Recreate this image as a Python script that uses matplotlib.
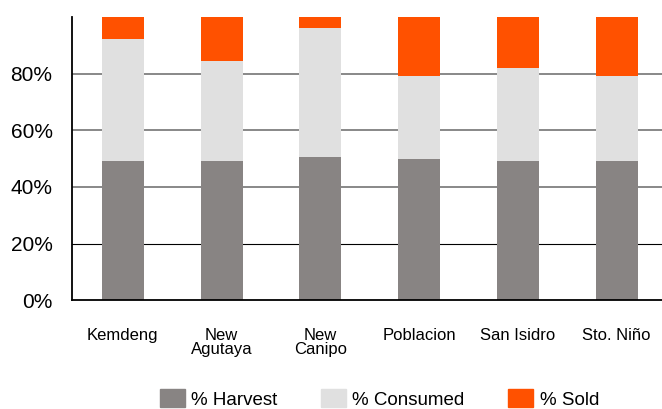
import matplotlib
matplotlib.use("Agg")
import matplotlib.pyplot as plt
from matplotlib.patches import Patch
import numpy as np

plt.rcParams['font.family'] = ['Liberation Sans', 'DejaVu Sans']

barangays = ['Kemdeng', 'New\nAgutaya', 'New\nCanipo', 'Poblacion', 'San Isidro', 'Sto. Niño']
harvest = [49.2, 49.2, 50.6, 49.9, 49.2, 49.2]
consumed = [43.0, 35.3, 45.5, 29.3, 32.8, 30.0]
sold = [7.8, 15.5, 3.9, 20.8, 18.0, 20.8]
yticks = [0, 20, 40, 60, 80]
ytick_labels = ['0%', '20%', '40%', '60%', '80%']

c_harvest = '#888483'
c_consumed = '#e0e0e0'
c_sold = '#ff5100'

fig = plt.figure(figsize=(6.62, 4.09), dpi=100)
ax = fig.add_axes([0.1088, 0.2658, 0.8912, 0.6927])

x = np.arange(len(barangays))
w = 0.425
h = np.array(harvest)
c = np.array(consumed)
ax.bar(x, h, w, color=c_harvest, zorder=2)
ax.bar(x, c, w, bottom=h, color=c_consumed, zorder=2)
ax.bar(x, sold, w, bottom=h + c, color=c_sold, zorder=2)

ax.set_xlim(-0.514, 5.46)
ax.set_ylim(0, 100)
ax.set_yticks(yticks)
ax.set_yticklabels(ytick_labels, fontsize=15)
ax.set_xticks(x)
ax.set_xticklabels(barangays, fontsize=12, linespacing=0.95, va='top')
ax.tick_params(axis='both', length=0)
ax.tick_params(axis='y', pad=14)
ax.tick_params(axis='x', pad=20)

# horizontal guides; the 20% one is thin black
for v in yticks[1:]:
    if v == 20:
        ax.axhline(v, color='black', lw=0.8, zorder=1)
    else:
        ax.axhline(v, color='#7f7f7f', lw=1.3, zorder=1)

for s in ['top', 'right']:
    ax.spines[s].set_visible(False)
ax.spines['left'].set_linewidth(1.3)
ax.spines['bottom'].set_linewidth(1.3)

handles = [Patch(color=c_harvest, label='% Harvest'),
           Patch(color=c_consumed, label='% Consumed'),
           Patch(color=c_sold, label='% Sold')]
fig.legend(handles=handles, loc='center', bbox_to_anchor=(0.573, 0.0245), ncol=3,
           frameon=False, fontsize=13.5, handlelength=1.33, handleheight=1.07,
           handletextpad=0.36, columnspacing=2.3, borderpad=0)

fig.savefig('out.png', dpi=100)
